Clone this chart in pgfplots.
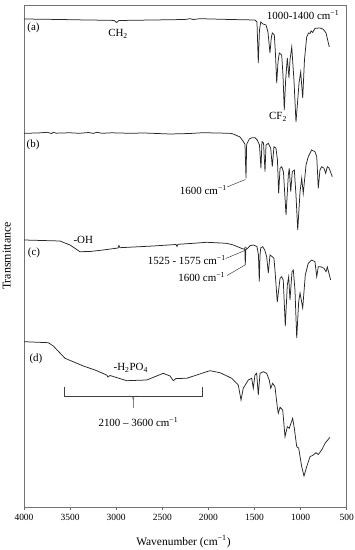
\documentclass[border=0pt]{standalone}
\usepackage{fontspec}
\setmainfont{Liberation Serif}
\usepackage{pgfplots}
\pgfplotsset{compat=1.18}
\pgfplotstableread{
x y
4000 -19
3610 -19.5
3320 -20
3067 -20.3
3024 -20.5
2995 -22.5
2970 -20.5
2598 -20
2254 -19.5
2200 -18.7
2164 -19.5
2091 -18.7
1766 -19.5
1495 -20
1473 -22
1459 -63
1446 -30
1432 -22
1408 -24
1375 -25
1354 -32
1332 -53
1318 -38
1307 -33
1285 -35
1272 -55
1259 -83
1245 -62
1231 -53
1205 -55
1191 -75
1177 -110
1162 -80
1144 -58
1133 -70
1126 -78
1115 -60
1096 -47
1072 -80
1050 -122
1031 -100
1017 -83
999 -72
977 -98
958 -60
934 -37
914 -33
898 -33.5
887 -31
870 -32.5
844 -28.3
790 -28
754 -29.3
724 -33
689 -47
}\speca
\pgfplotstableread{
x y
4000 -133.3
3850 -133
3750 -132.3
3700 -133.5
3682 -132.3
3650 -133.2
3610 -133
3500 -132.8
3400 -133.3
3300 -132.5
3250 -133.4
3211 -132.3
3150 -133.3
3050 -132.8
2850 -133.3
2700 -133
2416 -134
2200 -133.5
2059 -132.7
1766 -133.3
1730 -134
1657 -137
1625 -141
1603 -144.3
1592 -178.3
1585 -144.3
1556 -139
1530 -137.7
1495 -137.7
1470 -140
1446 -145
1430 -168.3
1419 -141.7
1402 -143
1386 -171.7
1375 -145
1350 -143.3
1324 -148.3
1307 -166.7
1289 -146.7
1267 -148.3
1251 -160
1238 -193.3
1223 -168.3
1205 -166.7
1186 -172
1158 -215
1133 -175
1123 -168.3
1107 -191.7
1090 -171.7
1068 -170
1050 -195
1031 -230
1006 -191.7
988 -178.3
971 -193.3
941 -165
917 -156.7
880 -150
844 -151.7
825 -156.7
808 -188.3
790 -170
771 -166.7
746 -168.3
728 -173.3
710 -166.7
692 -168
656 -176.7
}\specb
\pgfplotstableread{
x y
4000 -240
3610 -241
3501 -245
3393 -251.7
3284 -251.5
3140 -250
2980 -248
2970 -245.5
2959 -247.7
2598 -246
2351 -244.5
2341 -246.5
2330 -244.3
2164 -243.3
2018 -242.3
1802 -243.3
1730 -245
1657 -247.7
1625 -249
1605 -249
1600 -265
1594 -249.5
1585 -249
1567 -247.7
1549 -245.7
1513 -245
1473 -246.5
1457 -255
1448 -281.7
1440 -255
1432 -247.7
1411 -246.7
1389 -250
1368 -256.7
1350 -273
1332 -255
1307 -256.7
1289 -258.3
1278 -270
1253 -302
1223 -278.3
1205 -276.7
1188 -280
1166 -326
1144 -285
1129 -276.7
1115 -300
1093 -271.7
1079 -270
1061 -290
1042 -338
1021 -302
1006 -293
977 -308
949 -275
917 -263.3
880 -260
844 -261.7
825 -276.7
808 -266.7
782 -266.7
746 -268.3
724 -271.7
710 -267
674 -280
}\specc
\pgfplotstableread{
x y
4000 -341.7
3736 -342.7
3682 -346
3555 -358.3
3357 -366
3230 -370
3103 -375
3089 -377
3067 -375.5
2886 -380.7
2669 -380
2489 -373.3
2416 -376
2381 -380.7
2351 -378.5
2235 -378.3
2018 -371.7
1983 -370.7
1874 -372.7
1747 -378.3
1676 -385
1646 -400
1622 -388.3
1567 -380
1530 -378.3
1513 -388.3
1495 -375
1476 -373.3
1459 -395
1440 -373.3
1404 -371.7
1368 -373.3
1340 -380
1324 -388.3
1303 -383.3
1278 -386.7
1253 -406.7
1242 -413.3
1223 -407.3
1194 -410
1169 -436.7
1144 -426.7
1123 -428.3
1086 -418.3
1068 -428.3
1042 -446.7
1021 -448
988 -466.7
963 -476
934 -466.7
898 -456.7
862 -455
833 -452.7
808 -454.5
771 -450
735 -443.3
681 -437.3
}\specd
\begin{document}
\begin{tikzpicture}
\useasboundingbox (-24bp,-43bp) rectangle (331bp,507bp);
\begin{axis}[
  at={(0,0)}, anchor=south west,
  scale only axis, width=322.7bp, height=502bp,
  xmin=500, xmax=4000, x dir=reverse,
  ymin=-507, ymax=-5,
  xtick={500,1000,...,4000},
  ytick=\empty,
  xtick pos=left,
  tick align=outside,
  major tick length=3bp,
  axis line style={black!55, line width=0.6bp},
  tick style={black!60, line width=0.5bp},
  tick label style={font=\fontsize{9.5}{10}\selectfont},
  xticklabel style={yshift=-0.5bp},
  /pgf/number format/1000 sep={},
  /pgf/number format/assume math mode=true,
  xlabel={Wavenumber (cm\textsuperscript{−1})},
  xlabel style={font=\fontsize{11.5}{12}\selectfont, at={(axis description cs:0.494,0)}, anchor=center, yshift=-34.7bp},
  ylabel={Transmittance},
  ylabel style={font=\fontsize{12}{13}\selectfont, at={(axis description cs:-0.0536,0.5)}, anchor=center},
  clip=false,
]
\addplot[black!85, line width=0.75bp] table[x=x,y=y] {\speca};
\addplot[black!85, line width=0.75bp] table[x=x,y=y] {\specb};
\addplot[black!85, line width=0.75bp] table[x=x,y=y] {\specc};
\addplot[black!85, line width=0.75bp] table[x=x,y=y] {\specd};

\begin{scope}[every node/.style={font=\fontsize{11}{12}\selectfont, inner sep=0pt}]
\node at (axis cs:3897,-27.5) {(a)};
\node at (axis cs:2980,-34) {CH\textsubscript{2}};
\node at (axis cs:974,-15) {1000-1400 cm\textsuperscript{−1}};
\node at (axis cs:1245,-117) {CF\textsubscript{2}};
\node at (axis cs:3902,-145) {(b)};
\node at (axis cs:2055,-190) {1600 cm\textsuperscript{−1}};
\node at (axis cs:3357,-240) {-OH};
\node at (axis cs:3892,-253) {(c)};
\node at (axis cs:2235,-260) {1525 - 1575 cm\textsuperscript{−1}};
\node at (axis cs:2073,-276.7) {1600 cm\textsuperscript{−1}};
\node at (axis cs:3870,-359.3) {(d)};
\node at (axis cs:2842,-368) {-H\textsubscript{2}PO\textsubscript{4}};
\node at (axis cs:2760,-421.7) {2100 – 3600 cm\textsuperscript{−1}};
\end{scope}
\begin{scope}[black!75, line width=0.5bp]
\draw (axis cs:1798,-187) -- (axis cs:1598,-179.5);
\draw (axis cs:1812,-258.5) -- (axis cs:1603,-250.5);
\draw (axis cs:1798,-275.5) -- (axis cs:1603,-265);
\draw (axis cs:1598,-248.3) circle[radius=1.4bp];
\draw (axis cs:3560,-387) -- (axis cs:3560,-396) -- (axis cs:2070,-396) -- (axis cs:2070,-387);
\draw (axis cs:2860,-396) .. controls (axis cs:2820,-396.5) .. (axis cs:2815,-400) -- (axis cs:2815,-408);
\draw (axis cs:2770,-396) .. controls (axis cs:2810,-396.5) .. (axis cs:2815,-400);
\end{scope}
\end{axis}
\end{tikzpicture}
\end{document}
